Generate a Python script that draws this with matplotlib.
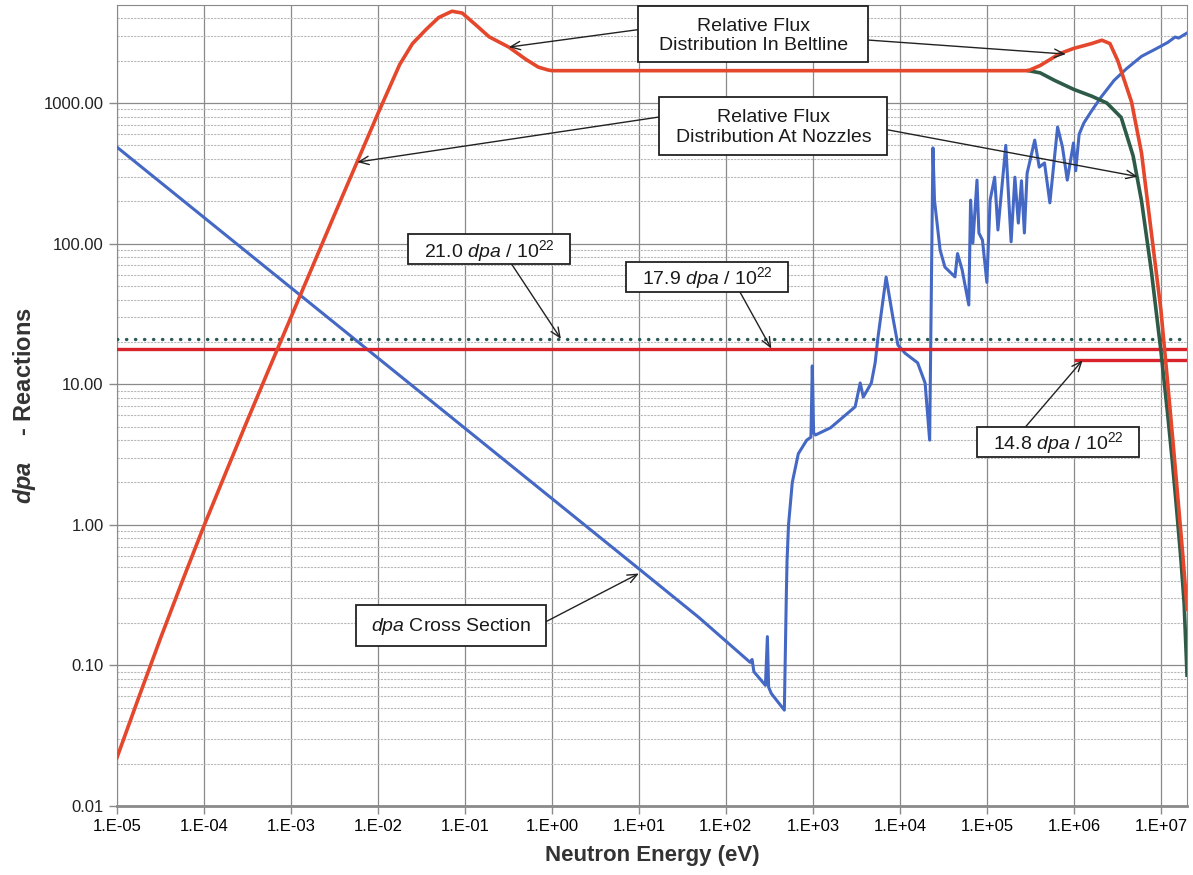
import numpy as np
import matplotlib
matplotlib.use('Agg')
import matplotlib.pyplot as plt
from matplotlib.patches import Rectangle
from matplotlib.ticker import FixedLocator, FuncFormatter, NullFormatter

plt.rcParams['font.family'] = ['Liberation Sans', 'DejaVu Sans']
plt.rcParams['mathtext.fontset'] = 'custom'
plt.rcParams['mathtext.rm'] = 'Liberation Sans'
plt.rcParams['mathtext.it'] = 'Liberation Sans:italic'
plt.rcParams['mathtext.bf'] = 'Liberation Sans:bold'
plt.rcParams['mathtext.bfit'] = 'Liberation Sans:italic:bold'

# beltline relative flux (eV, relative)
belt_e = [1e-5, 1.78e-5, 3.16e-5, 5.62e-5, 1e-4, 1.78e-4, 3.16e-4, 5.62e-4, 1e-3,
          1.78e-3, 3.16e-3, 5.62e-3, 1e-2, 1.78e-2, 2.5e-2, 3.6e-2, 5e-2,
          7.1e-2, 9.3e-2, 0.134, 0.19, 0.32, 0.5, 0.7, 0.9, 1.0, 3e5, 4.1e5, 6.9e5,
          1.0e6, 1.6e6, 2.1e6, 2.6e6, 3.2e6, 4.6e6, 6.0e6, 7.8e6, 1.0e7, 1.17e7,
          1.4e7, 1.6e7, 1.8e7, 2.0e7]
belt_f = [0.022, 0.059, 0.155, 0.394, 0.98, 2.34, 5.53, 12.9, 29.9,
          69.2, 160, 367, 841, 1880, 2650, 3350, 4060,
          4500, 4370, 3590, 2960, 2500, 2050, 1800, 1720, 1700, 1700, 1850, 2250,
          2450, 2650, 2800, 2650, 2000, 1020, 440, 118, 34, 12,
          3.5, 1.35, 0.58, 0.25]

# nozzle relative flux (only differs above ~3e5 eV)
noz_e = [3e5, 4.1e5, 6e5, 1.0e6, 1.6e6, 2.4e6, 3.5e6, 4.8e6, 6.0e6, 7.8e6,
         1.0e7, 1.2e7, 1.35e7, 1.5e7, 1.7e7, 1.85e7, 2.0e7]
noz_f = [1700, 1640, 1450, 1250, 1120, 1000, 790, 421, 201, 63,
         17.4, 6.05, 2.89, 1.41, 0.57, 0.28, 0.085]

# dpa cross section
xs_e = [1e-5, 1e-3, 1e-1, 10, 48.5, 190, 200, 210, 285, 300, 310, 333, 470, 496,
        505, 525, 580, 680, 850, 950, 985, 1020, 1070, 1600, 3060, 3500, 3800,
        4700, 5200, 5600, 6950, 8300, 9500, 1.15e4, 1.6e4, 1.95e4, 2.2e4, 2.4e4,
        2.5e4, 2.9e4, 3.3e4, 4.3e4, 4.6e4, 5.2e4, 6.2e4, 6.5e4, 6.9e4, 7.7e4,
        8.1e4, 8.9e4, 1.0e5, 1.09e5, 1.23e5, 1.34e5, 1.65e5, 1.9e5, 2.1e5,
        2.3e5, 2.5e5, 2.7e5, 2.9e5, 3.55e5, 4.0e5, 4.6e5, 5.3e5, 6.5e5, 7.4e5,
        8.4e5, 9.9e5, 1.05e6, 1.15e6, 1.3e6, 1.6e6, 2.05e6, 2.9e6, 4e6, 6e6,
        9e6, 1.2e7, 1.46e7, 1.6e7, 2e7]
xs_v = [486, 48.6, 4.86, 0.486, 0.22, 0.105, 0.11, 0.09, 0.072, 0.16, 0.07,
        0.063, 0.048, 0.33, 0.56, 1.0, 2.0, 3.2, 4.0, 4.2, 13.5, 4.5, 4.35,
        4.9, 6.9, 10.2, 8.1, 10.2, 14.2, 21.5, 57.8, 30, 19, 16.6, 14.2, 10.2,
        4.0, 480, 204, 90, 68, 58, 85, 65, 36.6, 204, 101, 283, 119, 106, 53,
        204, 297, 125, 500, 103, 297, 140, 280, 119, 316, 545, 350, 375, 195,
        675, 486, 283, 520, 330, 600, 720, 880, 1100, 1450, 1750, 2150, 2450,
        2700, 2950, 2900, 3150]

# spectrum-averaged dpa levels
lvl_noz = 21.0
lvl_belt = 17.9
lvl_fast = 14.8

fig = plt.figure(figsize=(11.93, 8.75), dpi=100)
ax = fig.add_axes([0.098, 0.079, 0.897, 0.9155])
ax.set_xscale('log')
ax.set_yscale('log')
ax.set_xlim(1e-5, 2e7)
ax.set_ylim(0.01, 5000)

ax.xaxis.set_major_locator(FixedLocator([10.0 ** k for k in range(-5, 8)]))
ax.xaxis.set_minor_locator(FixedLocator([]))
ax.xaxis.set_major_formatter(FuncFormatter(lambda v, p: '1.E%+03d' % int(round(np.log10(v)))))
ax.yaxis.set_major_locator(FixedLocator([0.01, 0.1, 1, 10, 100, 1000]))
ax.yaxis.set_minor_locator(FixedLocator([m * 10.0 ** k for k in range(-2, 4) for m in range(2, 10)]))
ax.yaxis.set_major_formatter(FuncFormatter(lambda v, p: '%.2f' % v))
ax.yaxis.set_minor_formatter(NullFormatter())

ax.grid(which='major', axis='both', color='#8a8a8a', lw=0.9)
ax.grid(which='minor', axis='y', color='#b8b8b8', lw=0.8, ls=(0, (2, 1)))
ax.set_axisbelow(True)
for s in ax.spines.values():
    s.set_color('#8a8a8a')
ax.spines['bottom'].set_linewidth(2)
ax.tick_params(which='major', direction='out', length=6, color='#8a8a8a', width=1)
ax.tick_params(which='minor', length=0)
ax.tick_params(axis='y', labelsize=12, labelcolor='#222222')
for lab in ax.get_xticklabels():
    lab.set_family(['Liberation Sans Narrow', 'Liberation Sans'])
    lab.set_fontsize(12)

ax.plot(xs_e, xs_v, color='#4468c4', lw=2.2, zorder=3)
ax.axhline(lvl_noz, color='#2c5a5a', lw=2.4, ls=(0, (0.1, 2.6)), dash_capstyle='round', zorder=4)
ax.axhline(lvl_belt, color='#d8232b', lw=2.4, zorder=4)
ax.hlines(lvl_fast, 1e6, 2e7, color='#d8232b', lw=2.4, zorder=4)
ax.plot(noz_e, noz_f, color='#2e5b48', lw=2.6, zorder=5, solid_joinstyle='round')
ax.plot(belt_e, belt_f, color='#e5472c', lw=2.6, zorder=5, solid_joinstyle='round')

# callout boxes (axes fraction: x0, y0, x1, y1) with their text
boxes = [((0.487, 0.928, 0.702, 0.998), 'Relative Flux\nDistribution In Beltline'),
         ((0.507, 0.813, 0.720, 0.885), 'Relative Flux\nDistribution At Nozzles'),
         ((0.272, 0.676, 0.423, 0.714), r'21.0 $\mathit{dpa}$ / 10$^{22}$'),
         ((0.476, 0.642, 0.627, 0.679), r'17.9 $\mathit{dpa}$ / 10$^{22}$'),
         ((0.804, 0.436, 0.955, 0.473), r'14.8 $\mathit{dpa}$ / 10$^{22}$'),
         ((0.223, 0.200, 0.401, 0.251), r'$\mathit{dpa}$ Cross Section')]
for (x0, y0, x1, y1), txt in boxes:
    ax.add_patch(Rectangle((x0, y0), x1 - x0, y1 - y0, transform=ax.transAxes,
                           fc='white', ec='#222222', lw=1.3, zorder=7, clip_on=False))
    ax.text((x0 + x1) / 2, (y0 + y1) / 2 - 0.002, txt, transform=ax.transAxes, ha='center',
            va='center', fontsize=14, linespacing=1.2, color='#1a1a1a', zorder=8)

akw = dict(xycoords='data', textcoords='axes fraction',
           arrowprops=dict(arrowstyle='->,head_length=0.7,head_width=0.3', color='#222222', lw=1.0,
                           shrinkA=0, shrinkB=0), zorder=6)
ax.annotate('', xy=(0.32, 2500), xytext=(0.487, 0.969), **akw)
ax.annotate('', xy=(8.1e5, 2230), xytext=(0.702, 0.956), **akw)
ax.annotate('', xy=(5.8e-3, 380), xytext=(0.507, 0.860), **akw)
ax.annotate('', xy=(5.4e6, 300), xytext=(0.720, 0.844), **akw)
ax.annotate('', xy=(1.27, 21.0), xytext=(0.369, 0.676), **akw)
ax.annotate('', xy=(333, 17.9), xytext=(0.582, 0.642), **akw)
ax.annotate('', xy=(1.26e6, 14.8), xytext=(0.849, 0.473), **akw)
ax.annotate('', xy=(10, 0.45), xytext=(0.401, 0.230), **akw)

ax.set_xlabel('Neutron Energy (eV)', fontsize=16, fontweight='bold', color='#333333',
              family=['Liberation Sans Narrow', 'Liberation Sans'], labelpad=8)
ax.set_ylabel(r'$\mathbfit{dpa}$    - Reactions', fontsize=17, fontweight='bold', color='#333333',
              labelpad=4)

fig.savefig('out.png', dpi=100)
